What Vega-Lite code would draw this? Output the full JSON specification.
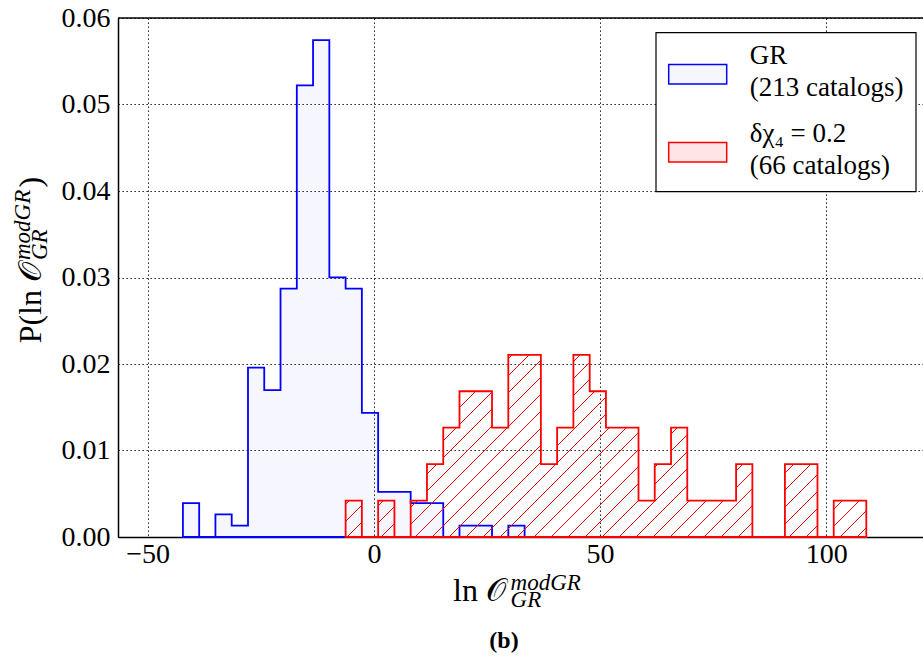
{
  "$schema": "https://vega.github.io/schema/vega-lite/v6.json",
  "width": 805,
  "height": 519,
  "autosize": {"type": "none"},
  "padding": {"left": 118, "top": 18, "right": 0, "bottom": 129},
  "background": "white",
  "config": {
    "view": {"stroke": null},
    "axis": {
      "domainColor": "black",
      "domainWidth": 1.5,
      "grid": true,
      "gridColor": "black",
      "gridDash": [1.3, 2.7],
      "gridWidth": 1,
      "gridOpacity": 1,
      "ticks": false,
      "labelFont": "Liberation Serif",
      "labelFontSize": 28,
      "labelColor": "black",
      "zindex": 1
    },
    "legend": {"strokeWidth": 1.2}
  },
  "datasets": {
    "hist": [
      {"series": "GR", "x": -42.22, "p": 0.003916},
      {"series": "GR", "x": -38.62, "p": 0},
      {"series": "GR", "x": -35.03, "p": 0.002611},
      {"series": "GR", "x": -31.43, "p": 0.001305},
      {"series": "GR", "x": -27.83, "p": 0.019581},
      {"series": "GR", "x": -24.24, "p": 0.01697},
      {"series": "GR", "x": -20.64, "p": 0.028719},
      {"series": "GR", "x": -17.04, "p": 0.052216},
      {"series": "GR", "x": -13.45, "p": 0.057438},
      {"series": "GR", "x": -9.85, "p": 0.030024},
      {"series": "GR", "x": -6.25, "p": 0.028719},
      {"series": "GR", "x": -2.66, "p": 0.014359},
      {"series": "GR", "x": 0.94, "p": 0.005222},
      {"series": "GR", "x": 4.54, "p": 0.005222},
      {"series": "GR", "x": 8.13, "p": 0.003916},
      {"series": "GR", "x": 11.73, "p": 0.003916},
      {"series": "GR", "x": 15.33, "p": 0},
      {"series": "GR", "x": 18.92, "p": 0.001305},
      {"series": "GR", "x": 22.52, "p": 0.001305},
      {"series": "GR", "x": 26.11, "p": 0},
      {"series": "GR", "x": 29.71, "p": 0.001305},
      {"series": "GR", "x": 33.31, "p": 0},
      {"series": "δχ₄ = 0.2", "x": -6.25, "p": 0.004213},
      {"series": "δχ₄ = 0.2", "x": -2.66, "p": 0},
      {"series": "δχ₄ = 0.2", "x": 0.94, "p": 0.004213},
      {"series": "δχ₄ = 0.2", "x": 4.54, "p": 0},
      {"series": "δχ₄ = 0.2", "x": 8.13, "p": 0.004213},
      {"series": "δχ₄ = 0.2", "x": 11.73, "p": 0.008425},
      {"series": "δχ₄ = 0.2", "x": 15.33, "p": 0.012638},
      {"series": "δχ₄ = 0.2", "x": 18.92, "p": 0.016851},
      {"series": "δχ₄ = 0.2", "x": 22.52, "p": 0.016851},
      {"series": "δχ₄ = 0.2", "x": 26.11, "p": 0.012638},
      {"series": "δχ₄ = 0.2", "x": 29.71, "p": 0.021064},
      {"series": "δχ₄ = 0.2", "x": 33.31, "p": 0.021064},
      {"series": "δχ₄ = 0.2", "x": 36.91, "p": 0.008425},
      {"series": "δχ₄ = 0.2", "x": 40.5, "p": 0.012638},
      {"series": "δχ₄ = 0.2", "x": 44.1, "p": 0.021064},
      {"series": "δχ₄ = 0.2", "x": 47.7, "p": 0.016851},
      {"series": "δχ₄ = 0.2", "x": 51.29, "p": 0.012638},
      {"series": "δχ₄ = 0.2", "x": 54.89, "p": 0.012638},
      {"series": "δχ₄ = 0.2", "x": 58.49, "p": 0.004213},
      {"series": "δχ₄ = 0.2", "x": 62.08, "p": 0.008425},
      {"series": "δχ₄ = 0.2", "x": 65.68, "p": 0.012638},
      {"series": "δχ₄ = 0.2", "x": 69.27, "p": 0.004213},
      {"series": "δχ₄ = 0.2", "x": 72.87, "p": 0.004213},
      {"series": "δχ₄ = 0.2", "x": 76.47, "p": 0.004213},
      {"series": "δχ₄ = 0.2", "x": 80.06, "p": 0.008425},
      {"series": "δχ₄ = 0.2", "x": 83.66, "p": 0},
      {"series": "δχ₄ = 0.2", "x": 87.26, "p": 0},
      {"series": "δχ₄ = 0.2", "x": 90.85, "p": 0.008425},
      {"series": "δχ₄ = 0.2", "x": 94.45, "p": 0.008425},
      {"series": "δχ₄ = 0.2", "x": 98.05, "p": 0},
      {"series": "δχ₄ = 0.2", "x": 101.64, "p": 0.004213},
      {"series": "δχ₄ = 0.2", "x": 105.24, "p": 0.004213},
      {"series": "δχ₄ = 0.2", "x": 108.84, "p": 0}
    ]
  },
  "data": {"name": "hist"},
  "layer": [
    {
      "transform": [{"filter": "datum.series === 'GR'"}],
      "mark": {"type": "area", "interpolate": "step-after", "strokeWidth": 1.8},
      "encoding": {
        "x": {
          "field": "x", "type": "quantitative",
          "scale": {"domain": [-56.565, 121.375], "nice": false, "zero": false},
          "axis": {"values": [-50, 0, 50, 100], "format": "d", "title": null, "labelPadding": 3.3}
        },
        "y": {
          "field": "p", "type": "quantitative", "stack": null,
          "scale": {"domain": [0, 0.06], "nice": false},
          "axis": {"values": [0, 0.01, 0.02, 0.03, 0.04, 0.05, 0.06], "format": ".2f", "title": null, "labelPadding": 8}
        },
        "fill": {
          "field": "series", "type": "nominal",
          "scale": {"domain": ["GR", "δχ₄ = 0.2"], "range": ["rgba(0,0,255,0.035)", "rgba(255,0,0,0.1)"]},
          "legend": {
            "title": null,
            "orient": "none",
            "legendX": 537.7,
            "legendY": 14.3,
            "padding": 12,
            "symbolOffset": 0,
            "strokeColor": "black",
            "fillColor": "white",
            "cornerRadius": 0,
            "symbolType": "M-1,-0.335H1V0.335H-1Z",
            "symbolSize": 3364,
            "symbolStrokeWidth": 1.5,
            "labelFont": "Liberation Serif",
            "labelFontSize": 27,
            "labelColor": "black",
            "labelOffset": 22,
            "labelLimit": 400,
            "labelBaseline": "bottom",
            "rowPadding": 19,
            "labelExpr": "datum.value === 'GR' ? ['GR', '(213 catalogs)'] : ['δχ₄ = 0.2', '(66 catalogs)']",
            "encode": {"labels": {"update": {"lineHeight": {"value": 32}, "dy": {"value": -4}}}}
          }
        },
        "stroke": {
          "field": "series", "type": "nominal",
          "scale": {"domain": ["GR", "δχ₄ = 0.2"], "range": ["#0000ff", "#ff0000"]},
          "legend": {
            "title": null,
            "orient": "none",
            "legendX": 537.7,
            "legendY": 14.3,
            "padding": 12,
            "symbolOffset": 0,
            "strokeColor": "black",
            "fillColor": "white",
            "cornerRadius": 0,
            "symbolType": "M-1,-0.335H1V0.335H-1Z",
            "symbolSize": 3364,
            "symbolStrokeWidth": 1.5,
            "labelFont": "Liberation Serif",
            "labelFontSize": 27,
            "labelColor": "black",
            "labelOffset": 22,
            "labelLimit": 400,
            "labelBaseline": "bottom",
            "rowPadding": 19,
            "labelExpr": "datum.value === 'GR' ? ['GR', '(213 catalogs)'] : ['δχ₄ = 0.2', '(66 catalogs)']",
            "encode": {"labels": {"update": {"lineHeight": {"value": 32}, "dy": {"value": -4}}}}
          }
        }
      }
    },
    {
      "transform": [{"filter": "datum.series !== 'GR'"}],
      "mark": {"type": "area", "interpolate": "step-after", "strokeWidth": 1.8},
      "encoding": {
        "x": {"field": "x", "type": "quantitative"},
        "y": {"field": "p", "type": "quantitative", "stack": null},
        "stroke": {"field": "series", "type": "nominal"},
        "fill": {"value": {
          "gradient": "linear", "x1": 0, "y1": 0, "x2": 1.2027, "y2": 0.42083,
          "stops": [
            {"offset": 0, "color": "rgba(255,0,0,0)"},
            {"offset": 0.018068, "color": "rgba(255,0,0,0)"}, {"offset": 0.018068, "color": "#ff0000"}, {"offset": 0.020628, "color": "#ff0000"}, {"offset": 0.020628, "color": "rgba(255,0,0,0)"},
            {"offset": 0.042254, "color": "rgba(255,0,0,0)"}, {"offset": 0.042254, "color": "#ff0000"}, {"offset": 0.044814, "color": "#ff0000"}, {"offset": 0.044814, "color": "rgba(255,0,0,0)"},
            {"offset": 0.06644, "color": "rgba(255,0,0,0)"}, {"offset": 0.06644, "color": "#ff0000"}, {"offset": 0.069, "color": "#ff0000"}, {"offset": 0.069, "color": "rgba(255,0,0,0)"},
            {"offset": 0.090626, "color": "rgba(255,0,0,0)"}, {"offset": 0.090626, "color": "#ff0000"}, {"offset": 0.093186, "color": "#ff0000"}, {"offset": 0.093186, "color": "rgba(255,0,0,0)"},
            {"offset": 0.114812, "color": "rgba(255,0,0,0)"}, {"offset": 0.114812, "color": "#ff0000"}, {"offset": 0.117372, "color": "#ff0000"}, {"offset": 0.117372, "color": "rgba(255,0,0,0)"},
            {"offset": 0.138998, "color": "rgba(255,0,0,0)"}, {"offset": 0.138998, "color": "#ff0000"}, {"offset": 0.141558, "color": "#ff0000"}, {"offset": 0.141558, "color": "rgba(255,0,0,0)"},
            {"offset": 0.163184, "color": "rgba(255,0,0,0)"}, {"offset": 0.163184, "color": "#ff0000"}, {"offset": 0.165744, "color": "#ff0000"}, {"offset": 0.165744, "color": "rgba(255,0,0,0)"},
            {"offset": 0.18737, "color": "rgba(255,0,0,0)"}, {"offset": 0.18737, "color": "#ff0000"}, {"offset": 0.18993, "color": "#ff0000"}, {"offset": 0.18993, "color": "rgba(255,0,0,0)"},
            {"offset": 0.211556, "color": "rgba(255,0,0,0)"}, {"offset": 0.211556, "color": "#ff0000"}, {"offset": 0.214116, "color": "#ff0000"}, {"offset": 0.214116, "color": "rgba(255,0,0,0)"},
            {"offset": 0.235742, "color": "rgba(255,0,0,0)"}, {"offset": 0.235742, "color": "#ff0000"}, {"offset": 0.238302, "color": "#ff0000"}, {"offset": 0.238302, "color": "rgba(255,0,0,0)"},
            {"offset": 0.259928, "color": "rgba(255,0,0,0)"}, {"offset": 0.259928, "color": "#ff0000"}, {"offset": 0.262488, "color": "#ff0000"}, {"offset": 0.262488, "color": "rgba(255,0,0,0)"},
            {"offset": 0.284114, "color": "rgba(255,0,0,0)"}, {"offset": 0.284114, "color": "#ff0000"}, {"offset": 0.286674, "color": "#ff0000"}, {"offset": 0.286674, "color": "rgba(255,0,0,0)"},
            {"offset": 0.3083, "color": "rgba(255,0,0,0)"}, {"offset": 0.3083, "color": "#ff0000"}, {"offset": 0.31086, "color": "#ff0000"}, {"offset": 0.31086, "color": "rgba(255,0,0,0)"},
            {"offset": 0.332486, "color": "rgba(255,0,0,0)"}, {"offset": 0.332486, "color": "#ff0000"}, {"offset": 0.335046, "color": "#ff0000"}, {"offset": 0.335046, "color": "rgba(255,0,0,0)"},
            {"offset": 0.356672, "color": "rgba(255,0,0,0)"}, {"offset": 0.356672, "color": "#ff0000"}, {"offset": 0.359232, "color": "#ff0000"}, {"offset": 0.359232, "color": "rgba(255,0,0,0)"},
            {"offset": 0.380858, "color": "rgba(255,0,0,0)"}, {"offset": 0.380858, "color": "#ff0000"}, {"offset": 0.383418, "color": "#ff0000"}, {"offset": 0.383418, "color": "rgba(255,0,0,0)"},
            {"offset": 0.405044, "color": "rgba(255,0,0,0)"}, {"offset": 0.405044, "color": "#ff0000"}, {"offset": 0.407604, "color": "#ff0000"}, {"offset": 0.407604, "color": "rgba(255,0,0,0)"},
            {"offset": 0.42923, "color": "rgba(255,0,0,0)"}, {"offset": 0.42923, "color": "#ff0000"}, {"offset": 0.43179, "color": "#ff0000"}, {"offset": 0.43179, "color": "rgba(255,0,0,0)"},
            {"offset": 0.453416, "color": "rgba(255,0,0,0)"}, {"offset": 0.453416, "color": "#ff0000"}, {"offset": 0.455976, "color": "#ff0000"}, {"offset": 0.455976, "color": "rgba(255,0,0,0)"},
            {"offset": 0.477602, "color": "rgba(255,0,0,0)"}, {"offset": 0.477602, "color": "#ff0000"}, {"offset": 0.480162, "color": "#ff0000"}, {"offset": 0.480162, "color": "rgba(255,0,0,0)"},
            {"offset": 0.501788, "color": "rgba(255,0,0,0)"}, {"offset": 0.501788, "color": "#ff0000"}, {"offset": 0.504348, "color": "#ff0000"}, {"offset": 0.504348, "color": "rgba(255,0,0,0)"},
            {"offset": 0.525974, "color": "rgba(255,0,0,0)"}, {"offset": 0.525974, "color": "#ff0000"}, {"offset": 0.528534, "color": "#ff0000"}, {"offset": 0.528534, "color": "rgba(255,0,0,0)"},
            {"offset": 0.55016, "color": "rgba(255,0,0,0)"}, {"offset": 0.55016, "color": "#ff0000"}, {"offset": 0.55272, "color": "#ff0000"}, {"offset": 0.55272, "color": "rgba(255,0,0,0)"},
            {"offset": 0.574346, "color": "rgba(255,0,0,0)"}, {"offset": 0.574346, "color": "#ff0000"}, {"offset": 0.576906, "color": "#ff0000"}, {"offset": 0.576906, "color": "rgba(255,0,0,0)"},
            {"offset": 0.598532, "color": "rgba(255,0,0,0)"}, {"offset": 0.598532, "color": "#ff0000"}, {"offset": 0.601092, "color": "#ff0000"}, {"offset": 0.601092, "color": "rgba(255,0,0,0)"},
            {"offset": 0.622718, "color": "rgba(255,0,0,0)"}, {"offset": 0.622718, "color": "#ff0000"}, {"offset": 0.625278, "color": "#ff0000"}, {"offset": 0.625278, "color": "rgba(255,0,0,0)"},
            {"offset": 0.646904, "color": "rgba(255,0,0,0)"}, {"offset": 0.646904, "color": "#ff0000"}, {"offset": 0.649464, "color": "#ff0000"}, {"offset": 0.649464, "color": "rgba(255,0,0,0)"},
            {"offset": 0.67109, "color": "rgba(255,0,0,0)"}, {"offset": 0.67109, "color": "#ff0000"}, {"offset": 0.67365, "color": "#ff0000"}, {"offset": 0.67365, "color": "rgba(255,0,0,0)"},
            {"offset": 0.695276, "color": "rgba(255,0,0,0)"}, {"offset": 0.695276, "color": "#ff0000"}, {"offset": 0.697836, "color": "#ff0000"}, {"offset": 0.697836, "color": "rgba(255,0,0,0)"},
            {"offset": 0.719462, "color": "rgba(255,0,0,0)"}, {"offset": 0.719462, "color": "#ff0000"}, {"offset": 0.722022, "color": "#ff0000"}, {"offset": 0.722022, "color": "rgba(255,0,0,0)"},
            {"offset": 0.743648, "color": "rgba(255,0,0,0)"}, {"offset": 0.743648, "color": "#ff0000"}, {"offset": 0.746208, "color": "#ff0000"}, {"offset": 0.746208, "color": "rgba(255,0,0,0)"},
            {"offset": 0.767834, "color": "rgba(255,0,0,0)"}, {"offset": 0.767834, "color": "#ff0000"}, {"offset": 0.770394, "color": "#ff0000"}, {"offset": 0.770394, "color": "rgba(255,0,0,0)"},
            {"offset": 0.79202, "color": "rgba(255,0,0,0)"}, {"offset": 0.79202, "color": "#ff0000"}, {"offset": 0.79458, "color": "#ff0000"}, {"offset": 0.79458, "color": "rgba(255,0,0,0)"},
            {"offset": 0.816206, "color": "rgba(255,0,0,0)"}, {"offset": 0.816206, "color": "#ff0000"}, {"offset": 0.818766, "color": "#ff0000"}, {"offset": 0.818766, "color": "rgba(255,0,0,0)"},
            {"offset": 0.840392, "color": "rgba(255,0,0,0)"}, {"offset": 0.840392, "color": "#ff0000"}, {"offset": 0.842952, "color": "#ff0000"}, {"offset": 0.842952, "color": "rgba(255,0,0,0)"},
            {"offset": 0.864578, "color": "rgba(255,0,0,0)"}, {"offset": 0.864578, "color": "#ff0000"}, {"offset": 0.867138, "color": "#ff0000"}, {"offset": 0.867138, "color": "rgba(255,0,0,0)"},
            {"offset": 0.888764, "color": "rgba(255,0,0,0)"}, {"offset": 0.888764, "color": "#ff0000"}, {"offset": 0.891324, "color": "#ff0000"}, {"offset": 0.891324, "color": "rgba(255,0,0,0)"},
            {"offset": 0.91295, "color": "rgba(255,0,0,0)"}, {"offset": 0.91295, "color": "#ff0000"}, {"offset": 0.91551, "color": "#ff0000"}, {"offset": 0.91551, "color": "rgba(255,0,0,0)"},
            {"offset": 0.937136, "color": "rgba(255,0,0,0)"}, {"offset": 0.937136, "color": "#ff0000"}, {"offset": 0.939696, "color": "#ff0000"}, {"offset": 0.939696, "color": "rgba(255,0,0,0)"},
            {"offset": 0.961322, "color": "rgba(255,0,0,0)"}, {"offset": 0.961322, "color": "#ff0000"}, {"offset": 0.963882, "color": "#ff0000"}, {"offset": 0.963882, "color": "rgba(255,0,0,0)"},
            {"offset": 0.985508, "color": "rgba(255,0,0,0)"}, {"offset": 0.985508, "color": "#ff0000"}, {"offset": 0.988068, "color": "#ff0000"}, {"offset": 0.988068, "color": "rgba(255,0,0,0)"},
            {"offset": 1, "color": "rgba(255,0,0,0)"}
          ]
        }}
      }
    },
    {
      "data": {"values": [{}]},
      "mark": {"type": "rule", "color": "black", "strokeWidth": 1.5},
      "encoding": {"y": {"datum": 0.06}}
    },
    {
      "data": {"values": [{}]},
      "mark": {"type": "text", "text": "ln 𝒪", "align": "right", "baseline": "alphabetic", "font": "Liberation Serif", "fontSize": 32, "color": "black"},
      "encoding": {"x": {"datum": 29.2}, "y": {"datum": -0.0074}}
    },
    {
      "data": {"values": [{}]},
      "mark": {"type": "text", "text": ["modGR", "GR"], "lineHeight": 17, "align": "left", "baseline": "alphabetic", "font": "Liberation Serif", "fontStyle": "italic", "fontSize": 23, "color": "black"},
      "encoding": {"x": {"datum": 30.2}, "y": {"datum": -0.00618}}
    },
    {
      "data": {"values": [{}]},
      "mark": {"type": "text", "text": "(b)", "align": "center", "baseline": "alphabetic", "font": "Liberation Serif", "fontWeight": "bold", "fontSize": 24, "color": "black"},
      "encoding": {"x": {"datum": 28.76}, "y": {"datum": -0.012832}}
    },
    {
      "data": {"values": [{}]},
      "mark": {"type": "text", "text": "P(ln 𝒪", "angle": 270, "align": "right", "baseline": "alphabetic", "font": "Liberation Serif", "fontSize": 32, "color": "black"},
      "encoding": {"x": {"datum": -73.585}, "y": {"datum": 0.031792}}
    },
    {
      "data": {"values": [{}]},
      "mark": {"type": "text", "text": ["modGR", "GR"], "lineHeight": 17, "angle": 270, "align": "left", "baseline": "alphabetic", "font": "Liberation Serif", "fontStyle": "italic", "fontSize": 23, "color": "black"},
      "encoding": {"x": {"datum": -75.96}, "y": {"datum": 0.032023}}
    },
    {
      "data": {"values": [{}]},
      "mark": {"type": "text", "text": ")", "angle": 270, "align": "left", "baseline": "alphabetic", "font": "Liberation Serif", "fontSize": 32, "color": "black"},
      "encoding": {"x": {"datum": -73.585}, "y": {"datum": 0.040405}}
    }
  ]
}
